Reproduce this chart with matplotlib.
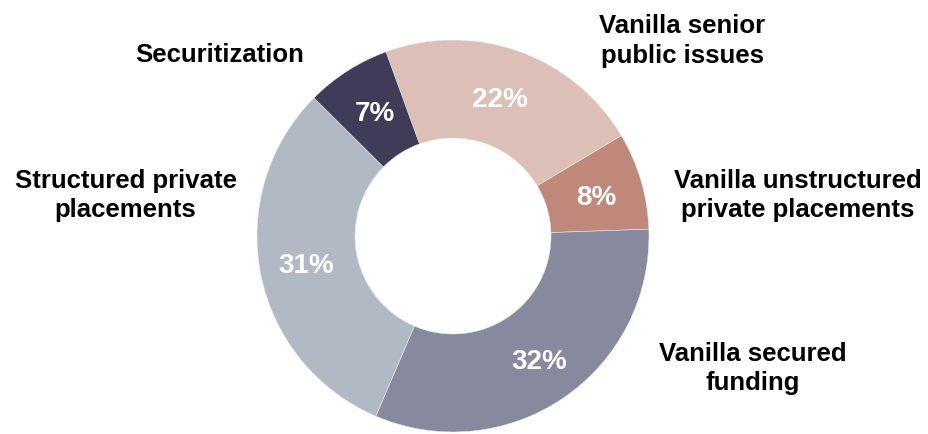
import matplotlib.pyplot as plt

# funding mix, clockwise from the top
categories = ["Vanilla senior\npublic issues", "Vanilla unstructured\nprivate placements",
              "Vanilla secured\nfunding", "Structured private\nplacements", "Securitization"]
shares = [22, 8, 32, 31, 7]
colors = ["#dcbfb6", "#c0887a", "#878a9e", "#b1b9c4", "#403c58"]

# label spots, in units of the outer radius from the centre
pct_pos = [(0.24, 0.70), (0.73, 0.20), (0.44, -0.64), (-0.75, -0.15), (-0.40, 0.63)]
cat_pos = [(1.17, 1.00), (1.76, 0.21), (1.53, -0.67), (-1.67, 0.21), (-1.19, 0.93)]

plt.rcParams['font.family'] = ['Liberation Sans', 'DejaVu Sans']

W, H = 929, 435
cx, cy, r = 453, 237, 196
fig = plt.figure(figsize=(W / 100, H / 100), dpi=100)
ax = fig.add_axes([(cx - r) / W, (H - cy - r) / H, 2 * r / W, 2 * r / H])

ax.pie(shares, colors=colors, startangle=110, counterclock=False, radius=1,
       wedgeprops=dict(width=0.5, edgecolor="#e8e8e8", linewidth=0.4))
ax.set_xlim(-1, 1)
ax.set_ylim(-1, 1)
ax.set_aspect("equal")
ax.axis("off")

for v, (x, y) in zip(shares, pct_pos):
    ax.text(x, y, f"{v}%", color="white", fontsize=20, fontweight="bold",
            ha="center", va="center")

for lab, (x, y) in zip(categories, cat_pos):
    ax.text(x, y, lab, color="black", fontsize=18.5, fontweight="bold",
            ha="center", va="center", linespacing=1.28, clip_on=False)

fig.savefig("out.png", dpi=100)
